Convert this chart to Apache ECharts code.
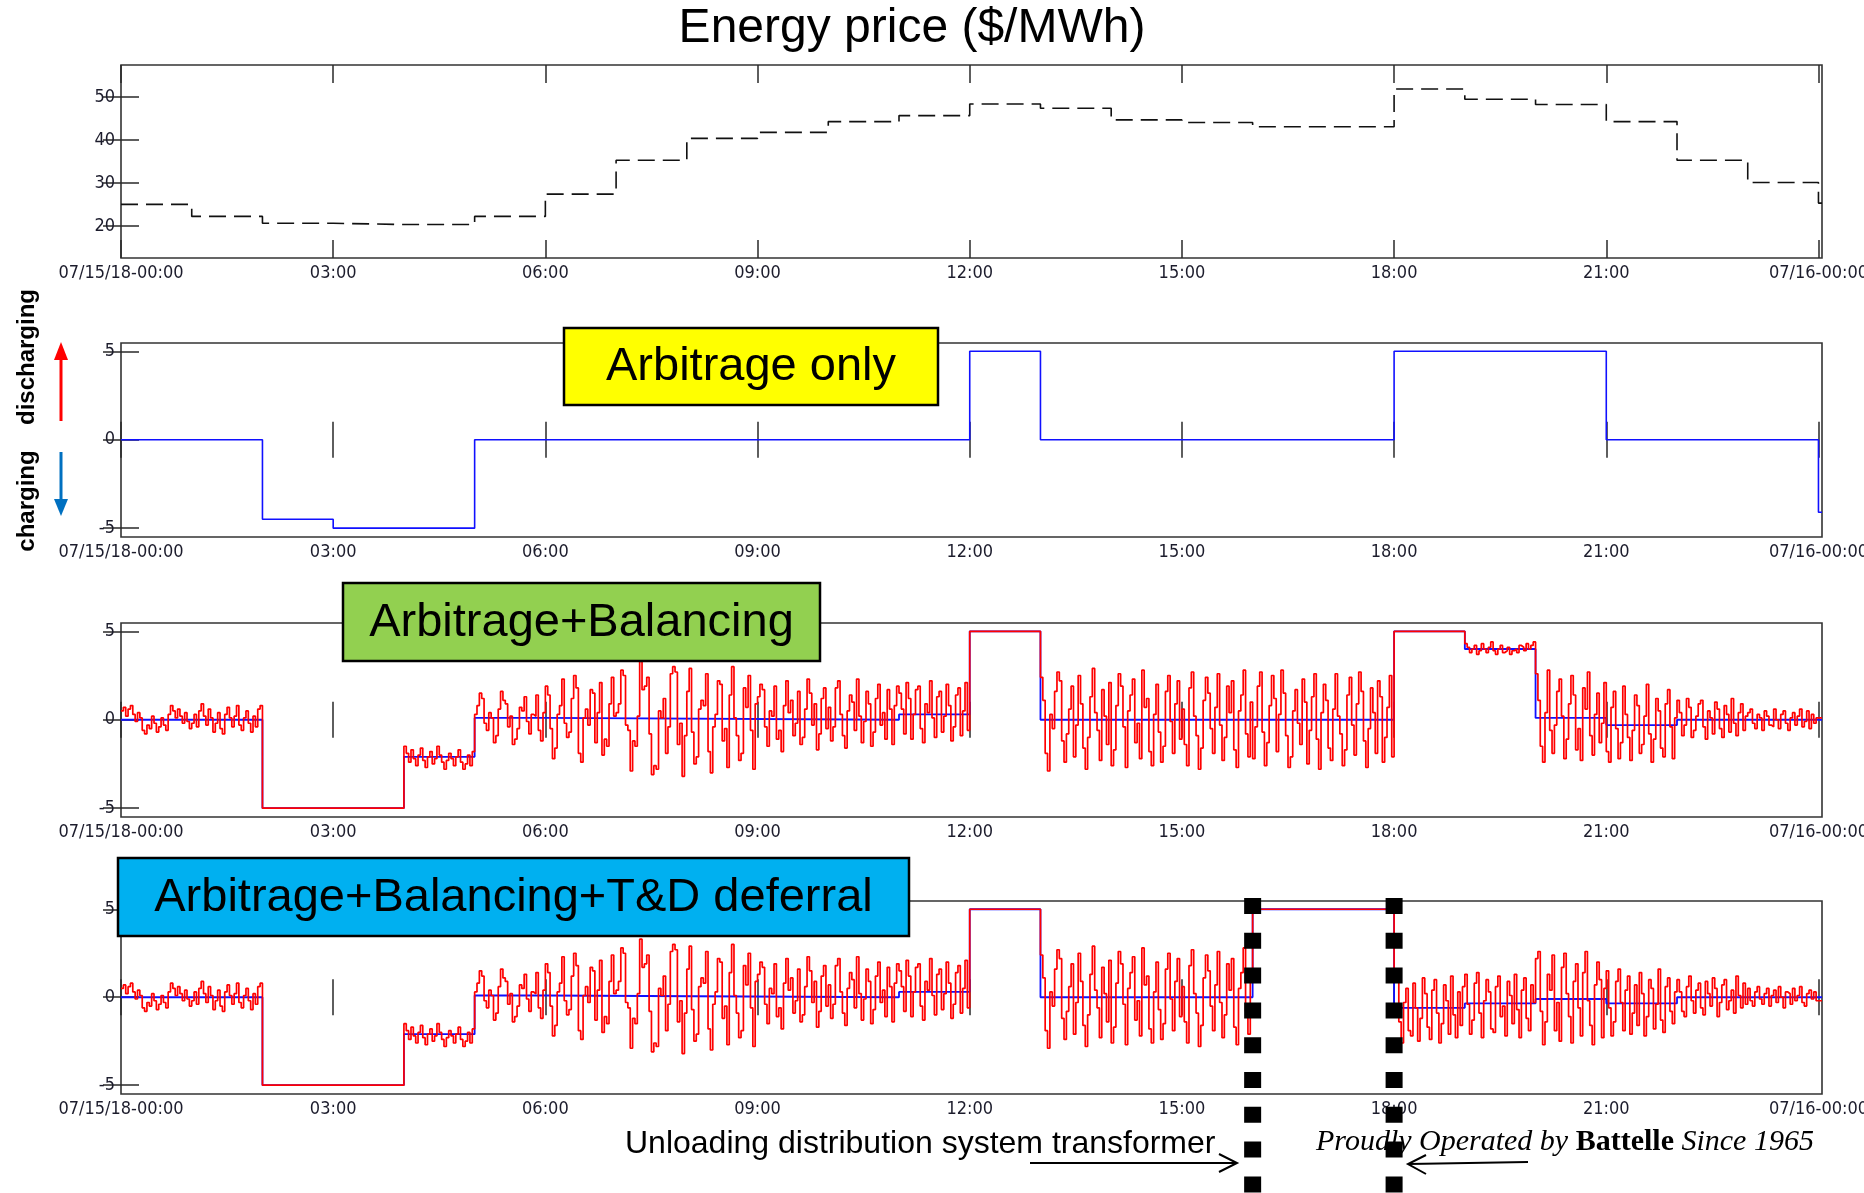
<!DOCTYPE html>
<html>
<head>
<meta charset="utf-8">
<script src="https://cdn.jsdelivr.net/npm/echarts@6/dist/echarts.min.js"></script>
<style>html,body{margin:0;padding:0;background:#fff;}#c{width:1864px;height:1193px;}</style>
</head>
<body>
<div id="c"></div>
<script>
// ---------- DATA ----------
const X_END = 1443; // minutes (axis runs slightly past 24:00)
const xTickValues = [0, 180, 360, 540, 720, 900, 1080, 1260, 1440];
const xTickLabels = ['07/15/18-00:00', '03:00', '06:00', '09:00', '12:00', '15:00', '18:00', '21:00', '07/16-00:00'];
const priceTicks = [20, 30, 40, 50];
const powerTicks = [-5, 0, 5];

// hourly energy price ($/MWh), hour 0..24
const priceHour = [0,1,2,3,4,5,6,7,8,9,10,11,12,13,14,15,16,17,18,19,20,21,22,23,24];
const priceValue = [25,22.2,20.6,20.3,20.3,22.2,27.4,35.3,40.4,41.8,44.3,45.7,48.4,47.4,44.7,44.1,43.1,43.1,51.9,49.5,48.3,44.3,35.3,30.1,25.3];

// Arbitrage only schedule: [minute, MW]
const arbOnly = [[0,0],[120,-4.5],[180,-5],[300,0],[720,5],[780,0],[1080,5],[1260,0],[1440,-4.1]];
// Arbitrage+Balancing baseline schedule
const balBase = [[0,0],[120,-5],[240,-2.1],[300,0.1],[360,0],[660,0.3],[720,5],[780,0],[1080,5],[1140,4.0],[1200,0.1],[1260,-0.3],[1320,0]];
// Arbitrage+Balancing+T&D deferral baseline schedule
const tddBase = [[0,0],[120,-5],[240,-2.1],[300,0.1],[360,0],[660,0.3],[720,5],[780,0],[960,5],[1080,-0.6],[1140,-0.35],[1200,-0.1],[1260,-0.35],[1320,0]];

const STEP = 2; // minutes between red samples
// red (actual) output, 2-minute samples, estimated from the picture
const red00 = [0.5,0.7,0.2,0.6,0.8,0.3,-0.1,0.4,0.1,-0.6,-0.8,-0.3,-0.5,0.2,-0.2,-0.7,-0.4,0.1,-0.3,-0.6,0.3,0.8,0.5,0.1,0.6,0.2,-0.2,0.4,-0.1,-0.5,
  -0.2,0.3,-0.4,0.5,0.9,0.2,-0.3,0.6,0.1,-0.7,-0.2,0.4,-0.5,-0.8,0.3,0.7,0.1,-0.4,0.2,0.8,-0.3,-0.6,0.1,0.5,-0.2,-0.7,0.2,-0.4,0.6,0.8];
const red04 = [-1.5,-1.9,-2.4,-1.7,-2.2,-2.6,-2.0,-1.6,-2.3,-2.7,-2.1,-1.8,-2.5,-2.2,-1.5,-2.0,-2.4,-2.8,-2.3,-1.9,-2.2,-2.6,-2.1,-1.7,-2.4,-2.8,-2.5,-2.0,-2.6,-1.8];
const red05 = [
  0.3,0.8,1.5,1.2,-0.2,-0.6,0.4,0.1,-1.3,-0.9,0.6,1.6,1.1,0.9,-0.4,0.2,-1.4,-1.1,-0.5,0.7,0.5,1.3,-0.1,-0.8,0.3,0.2,1.4,-0.6,-1.2,0.4,
  1.9,1.4,-0.5,-2.2,-1.6,0.3,0.8,2.3,-0.2,-1.0,-0.7,1.2,2.5,1.8,-1.9,-2.4,0.1,0.6,-0.3,1.7,1.5,-1.3,0.4,2.1,-2.0,-1.1,-1.5,0.9,2.4,0.2,
  0.4,0.9,2.8,2.5,-0.3,-0.6,-2.9,-1.2,-1.5,0.2,3.3,1.7,1.9,2.4,-0.8,-3.1,-2.6,-2.8,0.5,0.1,1.2,-1.9,-0.4,2.6,3.0,2.7,-1.4,-0.2,-3.2,-0.9,
  1.6,2.9,-0.7,-2.5,-2.1,0.6,1.1,0.8,2.6,-1.8,-3.0,-0.4,0.3,2.2,2.0,-1.2,-0.5,-2.7,1.4,3.0,0.1,-0.9,-2.3,-1.9,1.8,0.7,2.5,-0.6,-2.8,0.9,
  1.3,2.0,1.7,-0.4,-1.5,0.5,0.2,1.9,-1.1,-0.6,-1.8,0.8,2.2,0.4,1.1,-0.9,-0.2,1.6,-1.4,-1.0,0.6,2.3,1.5,-0.3,0.9,-1.7,-0.8,1.2,1.8,-0.5,
  0.7,-1.2,-0.4,1.8,2.2,0.3,-0.9,-1.6,0.5,1.4,1.0,-0.6,2.3,0.2,-1.3,-0.1,1.6,0.9,-1.5,-0.7,1.2,2.0,-0.3,0.4,-1.1,1.7,0.6,-1.4,0.8,1.9,
  1.5,0.6,-0.8,2.1,1.2,-1.1,0.3,1.7,1.9,-0.5,-1.3,0.9,0.4,2.2,0.1,-1.0,1.3,1.6,-0.7,0.2,2.0,0.8,-1.2,-0.4,1.4,1.8,-0.9,0.5,2.1,-0.6];
const red13 = [
  2.4,1.1,-1.9,-2.9,0.3,-0.5,1.6,2.7,2.2,-1.2,-2.4,-0.8,0.6,1.9,-2.1,-0.3,2.5,0.9,-1.6,-2.8,-1.0,1.3,2.9,0.4,-0.6,-2.3,1.7,0.2,-1.4,2.1,
  -2.6,-1.7,0.8,2.6,1.9,-0.4,-2.7,0.5,1.4,2.3,-1.3,-0.2,-2.2,2.8,0.7,1.2,-1.8,-2.6,0.3,2.0,-0.7,-2.4,-1.5,1.6,2.5,-0.1,-1.9,0.9,2.2,-1.1,
  0.6,-1.4,-2.6,1.8,2.7,0.2,-0.9,-2.8,-1.6,1.1,2.4,1.5,-0.5,-1.9,0.7,2.6,-0.3,-2.3,-1.0,1.9,0.4,2.2,-1.7,-2.7,0.5,1.4,2.8,-0.8,-2.1,1.0];
const red16 = [
  -2.2,-0.4,1.9,2.7,-0.7,-2.6,-1.3,0.8,2.5,1.2,-1.8,0.3,2.8,1.5,-0.9,-2.7,-2.1,0.5,1.7,-0.2,-1.4,2.3,1.0,-2.5,-0.6,1.3,2.6,-1.1,-2.8,0.4,
  2.0,1.1,-1.6,-2.3,0.6,2.6,0.2,-0.8,-2.6,-1.7,1.4,2.4,-0.3,-2.0,0.9,2.7,1.6,-1.2,-2.7,-0.5,1.8,0.4,-1.9,2.2,1.3,-2.4,-1.0,0.7,2.5,-2.1];
const red19 = [4.3,4.1,3.8,4.0,4.2,3.7,3.9,4.3,4.0,3.8,4.1,4.4,3.9,3.7,4.0,4.2,3.8,3.9,4.1,3.7,3.9,4.0,3.8,4.2,4.1,3.9,4.3,4.0,4.2,4.4];
const red20 = [
  2.6,1.1,-1.5,-2.4,0.4,2.8,-0.6,-1.9,-0.3,1.6,2.3,0.2,-2.2,-1.1,0.9,2.5,1.4,-1.7,-0.5,-2.3,1.8,0.6,2.7,-0.9,-2.0,0.3,1.5,-1.3,-0.2,2.1,
  -1.8,-2.4,0.7,1.6,-0.5,-2.2,-1.3,1.9,0.3,-1.0,-2.3,-0.6,1.4,0.8,-1.9,-1.4,0.2,2.0,-0.8,-2.4,-1.1,1.2,0.5,-1.6,-2.1,0.9,1.7,-0.4,-2.2,0.1,
  1.1,0.4,-0.9,-0.3,1.2,0.7,-1.0,-0.6,0.2,0.9,1.1,-0.4,-1.1,0.5,0.1,-0.8,1.0,0.6,-0.5,-1.0,0.8,0.3,-0.7,1.2,-0.2,-0.9,0.4,0.9,-0.6,0.2,
  0.4,0.6,-0.2,-0.5,0.3,0.1,-0.6,0.5,0.2,-0.3,-0.4,0.6,0.0,-0.5,0.3,0.5,-0.2,-0.6,0.1,0.4,-0.3,0.2,0.6,-0.4,-0.1,0.5,-0.5,0.3,-0.2,0.1];
const tdd18 = [
  0.9,1.2,-1.4,-2.6,-0.3,0.5,-1.9,-2.2,0.8,-0.6,-2.5,-1.2,1.1,0.2,-1.7,-2.4,0.4,1.0,-0.9,-2.6,-1.5,0.7,-0.2,-2.1,1.2,-1.0,-2.3,0.3,-1.6,0.6,
  1.3,-0.4,-2.1,-1.3,0.8,1.4,-0.9,-2.3,-0.2,1.0,0.3,-1.8,-2.0,0.6,1.2,-1.1,-0.5,-2.2,0.9,0.1,-1.5,1.3,-0.7,-2.3,0.4,1.1,-1.2,-1.9,0.7,-0.3,
  2.2,2.6,-0.8,-2.7,-1.4,1.3,0.4,2.4,-1.9,-0.3,-2.5,1.7,2.5,0.2,-1.1,-2.6,0.9,1.9,-0.6,-2.2,1.4,2.6,-0.2,-1.6,-2.7,0.7,2.0,1.0,-2.3,0.5,
  1.5,-0.6,-2.2,-1.4,0.9,1.6,-0.3,-1.9,0.4,1.2,-2.1,-0.9,0.7,-1.6,1.4,0.2,-2.2,-1.1,1.0,0.5,-1.8,-0.4,1.6,-1.3,-2.0,0.6,1.1,-0.8,-1.5,0.3,
  1.0,0.3,-0.8,-1.1,0.6,1.2,-0.2,-0.9,0.4,0.8,-0.6,-1.0,0.9,0.2,-0.5,1.1,0.5,-1.1,-0.3,0.7,1.0,-0.7,-0.2,0.4,-0.9,1.2,0.1,-0.6,0.8,-0.4,
  0.5,-0.2,-0.5,0.3,0.6,-0.1,-0.4,0.2,0.5,-0.5,0.1,0.4,-0.3,0.6,0.0,-0.6,0.3,0.2,-0.4,0.5,-0.2,0.1,0.6,-0.3,-0.5,0.2,0.4,-0.1,0.3,-0.2];

// ---------- BUILD ----------
function seg(start, vals) { return vals.map((v, i) => [start + STEP * i, v]); }
function closeSeries(pts) { const last = pts[pts.length - 1]; return pts.concat([[X_END, last[1]]]); }

const priceData = closeSeries(priceHour.map((h, i) => [h * 60, priceValue[i]]));
const arbData = closeSeries(arbOnly);
const balBaseData = closeSeries(balBase);
const tddBaseData = closeSeries(tddBase);
const balRed = closeSeries([].concat(
  seg(0, red00), [[120, -5]], seg(240, red04), seg(300, red05), [[720, 5]],
  seg(780, red13), seg(960, red16), [[1080, 5]], seg(1140, red19), seg(1200, red20)));
const tddRed = closeSeries([].concat(
  seg(0, red00), [[120, -5]], seg(240, red04), seg(300, red05), [[720, 5]],
  seg(780, red13), [[960, 5]], seg(1080, tdd18)));

const FONT = "'Liberation Sans', Arial, Helvetica, sans-serif";
const NARROW = "'Liberation Sans Narrow', 'Arial Narrow', 'DejaVu Sans Condensed', sans-serif";
const AX = '#2a2a2a';

const gridDefs = [
  { top: 65, height: 193, ymin: 12.5, ymax: 57.5, yt: priceTicks },
  { top: 343, height: 194, ymin: -5.5, ymax: 5.47, yt: powerTicks },
  { top: 623, height: 194, ymin: -5.5, ymax: 5.47, yt: powerTicks },
  { top: 901, height: 193, ymin: -5.5, ymax: 5.47, yt: powerTicks }
];

const grid = [], xAxis = [], yAxis = [];
gridDefs.forEach((g, i) => {
  grid.push({ left: 121, right: 42, top: g.top, height: g.height, show: true, containLabel: false, outerBoundsMode: 'none',
    borderColor: '#333', borderWidth: 1.6, backgroundColor: 'transparent' });
  const xbase = { type: 'value', gridIndex: i, min: 0, max: X_END, splitLine: { show: false }, axisLine: { show: false } };
  xAxis.push(Object.assign({}, xbase, {
    position: 'bottom',
    axisTick: { show: true, inside: true, length: 18, customValues: xTickValues, lineStyle: { color: AX, width: 1.5 } },
    axisLabel: { show: true, customValues: xTickValues, margin: 6, fontFamily: NARROW, fontSize: 18, color: '#1c1c2c', hideOverlap: false,
      formatter: v => { const k = xTickValues.indexOf(v); return k >= 0 ? xTickLabels[k] : ''; } }
  }));
  xAxis.push(Object.assign({}, xbase, {
    position: 'top',
    axisTick: { show: true, inside: true, length: 18, customValues: xTickValues, lineStyle: { color: AX, width: 1.5 } },
    axisLabel: { show: false }
  }));
  const ybase = { type: 'value', gridIndex: i, min: g.ymin, max: g.ymax, splitLine: { show: false }, axisLine: { show: false } };
  yAxis.push(Object.assign({}, ybase, {
    position: 'left',
    axisTick: { show: true, inside: true, length: 18, customValues: g.yt, lineStyle: { color: AX, width: 1.5 } },
    axisLabel: { show: true, customValues: g.yt, margin: 6, fontFamily: NARROW, fontSize: 18, color: '#1c1c2c' }
  }));
  yAxis.push(Object.assign({}, ybase, {
    position: 'right',
    axisTick: { show: true, inside: true, length: 18, customValues: g.yt, lineStyle: { color: AX, width: 1.5 } },
    axisLabel: { show: false }
  }));
});

function lineSeries(idx, data, color, width, type, z) {
  return { type: 'line', xAxisIndex: idx * 2, yAxisIndex: idx * 2, data: data, step: 'end', showSymbol: false, symbol: 'none',
    lineStyle: { color: color, width: width, type: type || 'solid', cap: 'butt' }, z: z || 2, animation: false, silent: true };
}

const series = [
  lineSeries(0, priceData, '#111', 1.6, [17, 8]),
  lineSeries(1, arbData, '#1010ff', 1.6),
  lineSeries(2, balBaseData, '#1010ff', 1.8, 'solid', 2),
  lineSeries(2, balRed, '#ff0000', 1.7, 'solid', 3),
  lineSeries(3, tddBaseData, '#1010ff', 1.8, 'solid', 2),
  lineSeries(3, tddRed, '#ff0000', 1.7, 'solid', 3)
];

const chart = echarts.init(document.getElementById('c'), null, { renderer: 'canvas' });
chart.setOption({ animation: false, backgroundColor: '#fff', grid, xAxis, yAxis, series });

// ---------- ANNOTATIONS ----------
function label(text, x, y, size, extra) {
  return Object.assign({ type: 'text', x: x, y: y, z: 50,
    style: Object.assign({ text: text, fill: '#000', font: size + 'px ' + FONT, fontSize: size, fontFamily: FONT,
      align: 'center', verticalAlign: 'middle', textAlign: 'center', textVerticalAlign: 'middle' }, extra || {}) });
}
function box(x, y, w, h, fill, text) {
  return [
    { type: 'rect', z: 40, shape: { x: x, y: y, width: w, height: h }, style: { fill: fill, stroke: '#000', lineWidth: 2.5 } },
    label(text, x + w / 2, y + h / 2 + 1, 47)
  ];
}

const gr = [];
gr.push(label('Energy price ($/MWh)', 912, 29, 48));
gr.push(...box(564, 328, 374, 77, '#ffff00', 'Arbitrage only'));
gr.push(...box(343, 583, 477, 78, '#92d050', 'Arbitrage+Balancing'));
gr.push(...box(118, 858, 791, 78, '#00b0f0', 'Arbitrage+Balancing+T&D deferral'));

// left side labels and arrows
gr.push({ type: 'text', x: 27, y: 357, rotation: Math.PI / 2, z: 50,
  style: { text: 'discharging', fill: '#000', font: 'bold 24px ' + FONT, align: 'center', verticalAlign: 'middle', textAlign: 'center', textVerticalAlign: 'middle' } });
gr.push({ type: 'text', x: 27, y: 501, rotation: Math.PI / 2, z: 50,
  style: { text: 'charging', fill: '#000', font: 'bold 24px ' + FONT, align: 'center', verticalAlign: 'middle', textAlign: 'center', textVerticalAlign: 'middle' } });
gr.push({ type: 'line', z: 50, shape: { x1: 61, y1: 421, x2: 61, y2: 356 }, style: { stroke: '#ff0000', lineWidth: 3 } });
gr.push({ type: 'polygon', z: 50, shape: { points: [[61, 342], [54, 360], [68, 360]] }, style: { fill: '#ff0000' } });
gr.push({ type: 'line', z: 50, shape: { x1: 61, y1: 452, x2: 61, y2: 503 }, style: { stroke: '#0070c0', lineWidth: 3 } });
gr.push({ type: 'polygon', z: 50, shape: { points: [[61, 516], [54, 499], [68, 499]] }, style: { fill: '#0070c0' } });

// bottom annotation
gr.push(label('Unloading distribution system transformer', 625, 1144, 32, { align: 'left', textAlign: 'left' }));
gr.push({ type: 'line', z: 50, shape: { x1: 1030, y1: 1163, x2: 1236, y2: 1163 }, style: { stroke: '#000', lineWidth: 2 } });
gr.push({ type: 'polyline', z: 50, shape: { points: [[1219, 1154], [1237, 1163], [1219, 1172]] }, style: { stroke: '#000', lineWidth: 2, fill: null } });
gr.push({ type: 'line', z: 50, shape: { x1: 1528, y1: 1162, x2: 1409, y2: 1164 }, style: { stroke: '#000', lineWidth: 2 } });
gr.push({ type: 'polyline', z: 50, shape: { points: [[1426, 1155], [1408, 1164], [1426, 1174]] }, style: { stroke: '#000', lineWidth: 2, fill: null } });
gr.push({ type: 'text', x: 1316, y: 1142, z: 50,
  style: { text: '{i|Proudly Operated by }{b|Battelle}{i| Since 1965}', align: 'left', verticalAlign: 'middle', textAlign: 'left', textVerticalAlign: 'middle',
    rich: { i: { fontFamily: "'Liberation Serif', 'Times New Roman', serif", fontStyle: 'italic', fontSize: 30, fill: '#000', color: '#000' },
            b: { fontFamily: "'Liberation Serif', 'Times New Roman', serif", fontWeight: 'bold', fontSize: 30, fill: '#000', color: '#000' } } } });

// thick dotted markers at 16:00 and 18:00 (positions from the axis scale)
[960, 1080].forEach(m => {
  const p = chart.convertToPixel({ xAxisIndex: 6, yAxisIndex: 6 }, [m, 0]);
  gr.push({ type: 'line', z: 60, shape: { x1: p[0], y1: 898, x2: p[0], y2: 1200 },
    style: { stroke: '#000', lineWidth: 17, lineDash: [16, 18.8], lineCap: 'butt' } });
});

chart.setOption({ graphic: gr });
</script>
</body>
</html>
